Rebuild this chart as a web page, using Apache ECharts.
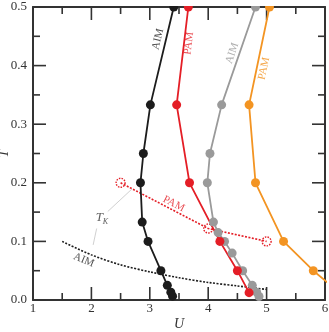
<!DOCTYPE html>
<html>
<head>
<meta charset="utf-8">
<script src="https://cdn.jsdelivr.net/npm/echarts@6/dist/echarts.min.js"></script>
<style>html,body{margin:0;padding:0;background:#fff;}#c{width:329px;height:332px;}</style>
</head>
<body>
<div id="c"></div>
<script>
// ---- data ----
const xTicks = [1, 2, 3, 4, 5, 6];
const yTicks = [0.0, 0.1, 0.2, 0.3, 0.4, 0.5];

const aimBlackU = [3.41, 3.01, 2.89, 2.84, 2.87, 2.97, 3.19, 3.30, 3.36, 3.39];
const aimBlackT = [0.5, 0.333, 0.25, 0.2, 0.133, 0.1, 0.05, 0.025, 0.0134, 0.0065];

const pamRedU = [3.66, 3.46, 3.68, 4.20, 4.50, 4.70];
const pamRedT = [0.5, 0.333, 0.2, 0.1, 0.05, 0.0125];

const aimGrayU = [4.81, 4.23, 4.03, 3.985, 4.09, 4.17, 4.28, 4.41, 4.59, 4.755, 4.83, 4.87];
const aimGrayT = [0.5, 0.333, 0.25, 0.2, 0.133, 0.115, 0.1, 0.08, 0.05, 0.025, 0.0134, 0.006];

const pamOrangeU = [5.05, 4.70, 4.81, 5.29, 5.80, 6.10];
const pamOrangeT = [0.5, 0.333, 0.2, 0.1, 0.05, 0.025];

const tkPamU = [2.5, 4.0, 5.0];
const tkPamT = [0.2, 0.122, 0.1];

const tkAimU = [1.5, 2.0, 2.5, 3.0, 3.5, 4.0, 4.5, 5.0];
const tkAimT = [0.1, 0.077, 0.06, 0.048, 0.038, 0.030, 0.024, 0.018];

// leader lines from the T_K label
const leader1U = [2.28, 2.69], leader1T = [0.151, 0.189];
const leader2U = [2.09, 2.03], leader2T = [0.122, 0.094];

// annotations (text, U, T, rotation)
const annText = ['AIM', 'PAM', 'AIM', 'PAM', 'PAM', 'AIM'];
const annU = [3.14, 3.67, 4.41, 4.955, 3.41, 1.87];
const annT = [0.445, 0.438, 0.421, 0.395, 0.164, 0.068];
const annRot = [76, 83, 71, 78, -27, -22];
const tkLabelU = 2.18, tkLabelT = 0.14;

// ---- styling ----
const C_BLACK = '#1c1c1c', C_RED = '#e41e26', C_GRAY = '#9a9a9a', C_ORANGE = '#f39422';
const annColor = [C_BLACK, C_RED, C_GRAY, C_ORANGE, C_RED, C_BLACK];
const SERIF = "'Liberation Serif', 'DejaVu Serif', serif";
const AX = '#333';
const MAJOR_PX = 13, MINOR_PX = 7;

function zip(a, b) { return a.map((v, i) => [v, b[i]]); }

function solid(name, u, t, color) {
  return {
    name, type: 'line', data: zip(u, t), symbol: 'circle', symbolSize: 9,
    lineStyle: { color, width: 1.8 }, itemStyle: { color }, clip: true, z: 3
  };
}

function axisCommon(show) {
  return {
    axisLine: { show: true, onZero: false, lineStyle: { color: AX, width: 2 } },
    axisTick: { show: false },
    minorTick: { show: false },
    splitLine: { show: false },
    minorSplitLine: { show: false },
    axisLabel: { show: show, color: '#333', fontFamily: SERIF, fontSize: 13 }
  };
}

const chart = echarts.init(document.getElementById('c'));

const xBase = Object.assign(axisCommon(true), {
  type: 'value', min: xTicks[0], max: xTicks[xTicks.length - 1], interval: 1,
  name: 'U', nameLocation: 'middle', nameGap: 17, nameMoveOverlap: false,
  nameTextStyle: { fontFamily: SERIF, fontStyle: 'italic', fontSize: 14, color: '#333' }
});
xBase.axisLabel.margin = 2;
const xTop = Object.assign(axisCommon(false), {
  type: 'value', position: 'top', min: xTicks[0], max: xTicks[xTicks.length - 1], interval: 1
});
const yBase = Object.assign(axisCommon(true), {
  type: 'value', min: yTicks[0], max: yTicks[yTicks.length - 1], interval: 0.1,
  name: 'T', nameLocation: 'middle', nameGap: 22, nameRotate: 90, nameMoveOverlap: false,
  nameTextStyle: { fontFamily: SERIF, fontStyle: 'italic', fontSize: 14, color: '#333' }
});
yBase.axisLabel.formatter = v => v.toFixed(1);
yBase.axisLabel.margin = 6;
const yRight = Object.assign(axisCommon(false), {
  type: 'value', position: 'right', min: yTicks[0], max: yTicks[yTicks.length - 1], interval: 0.1
});

const annData = annText.map((txt, i) => ({
  value: [annU[i], annT[i]],
  label: { show: true, formatter: txt, rotate: annRot[i], color: annColor[i] }
}));
annData.push({
  value: [tkLabelU, tkLabelT],
  label: {
    show: true, formatter: '{t|T}{k|K}', rotate: 0, color: '#333',
    rich: {
      t: { fontFamily: SERIF, fontStyle: 'italic', fontSize: 13, color: '#333' },
      k: { fontFamily: SERIF, fontStyle: 'italic', fontSize: 8, color: '#333', padding: [7, 0, 0, 0] }
    }
  }
});

const series = [
  { type: 'line', data: zip(leader1U, leader1T), symbol: 'none', lineStyle: { color: '#c4c4c4', width: 0.8 }, z: 1, silent: true },
  { type: 'line', data: zip(leader2U, leader2T), symbol: 'none', lineStyle: { color: '#c4c4c4', width: 0.8 }, z: 1, silent: true },
  {
    name: 'TK AIM', type: 'line', data: zip(tkAimU, tkAimT), symbol: 'none', smooth: 0.3,
    lineStyle: { color: C_BLACK, width: 1.6, type: [2, 1.5] }, z: 2
  },
  {
    name: 'TK PAM', type: 'line', data: zip(tkPamU, tkPamT), symbol: 'circle', symbolSize: 9,
    lineStyle: { color: C_RED, width: 1.6, type: [2, 1.5] },
    itemStyle: { color: 'rgba(255,255,255,0)', borderColor: C_RED, borderWidth: 1.4, borderType: [1.5, 1.2] }, z: 2
  },
  solid('AIM black', aimBlackU, aimBlackT, C_BLACK),
  solid('AIM gray', aimGrayU, aimGrayT, C_GRAY),
  solid('PAM red', pamRedU, pamRedT, C_RED),
  solid('PAM orange', pamOrangeU, pamOrangeT, C_ORANGE),
  {
    type: 'scatter', data: annData, symbolSize: 0, silent: true, z: 5,
    label: { show: true, position: 'inside', fontFamily: SERIF, fontSize: 11 }
  }
];

chart.setOption({
  animation: false,
  grid: { left: 33, right: 4, top: 7, bottom: 32, outerBoundsMode: 'none' },
  xAxis: [xBase, xTop],
  yAxis: [yBase, yRight],
  series: series,
  graphic: [
    { type: 'rect', shape: { x: 35, y: 0, width: 294, height: 6 }, style: { fill: '#fff' }, z: 100, silent: true }
  ]
});

// ---- inward tick marks on all four sides, placed through the axes' scales ----
const x0 = xTicks[0], x1 = xTicks[xTicks.length - 1];
const y0 = yTicks[0], y1 = yTicks[yTicks.length - 1];
const origin = chart.convertToPixel({ gridIndex: 0 }, [x0, y0]);
function dataLen(px) {
  const p = chart.convertFromPixel({ gridIndex: 0 }, [origin[0] + px, origin[1] - px]);
  return [p[0] - x0, p[1] - y0];
}
const majLen = dataLen(MAJOR_PX), minLen = dataLen(MINOR_PX);

const tickSeries = [];
function tickLine(a, b) {
  tickSeries.push({
    type: 'line', data: [a, b], symbol: 'none', clip: false, silent: true, z: 1,
    lineStyle: { color: AX, width: 1.6 }
  });
}
function withMinor(ticks) {
  const out = [];
  ticks.forEach((v, i) => {
    out.push([v, true]);
    if (i < ticks.length - 1) out.push([(v + ticks[i + 1]) / 2, false]);
  });
  return out;
}
withMinor(xTicks).forEach(([v, major]) => {
  const L = major ? majLen[1] : minLen[1];
  tickLine([v, y0], [v, y0 + L]);
  tickLine([v, y1], [v, y1 - L]);
});
withMinor(yTicks).forEach(([v, major]) => {
  const L = major ? majLen[0] : minLen[0];
  tickLine([x0, v], [x0 + L, v]);
  tickLine([x1, v], [x1 - L, v]);
});

chart.setOption({ series: series.concat(tickSeries) });
</script>
</body>
</html>
